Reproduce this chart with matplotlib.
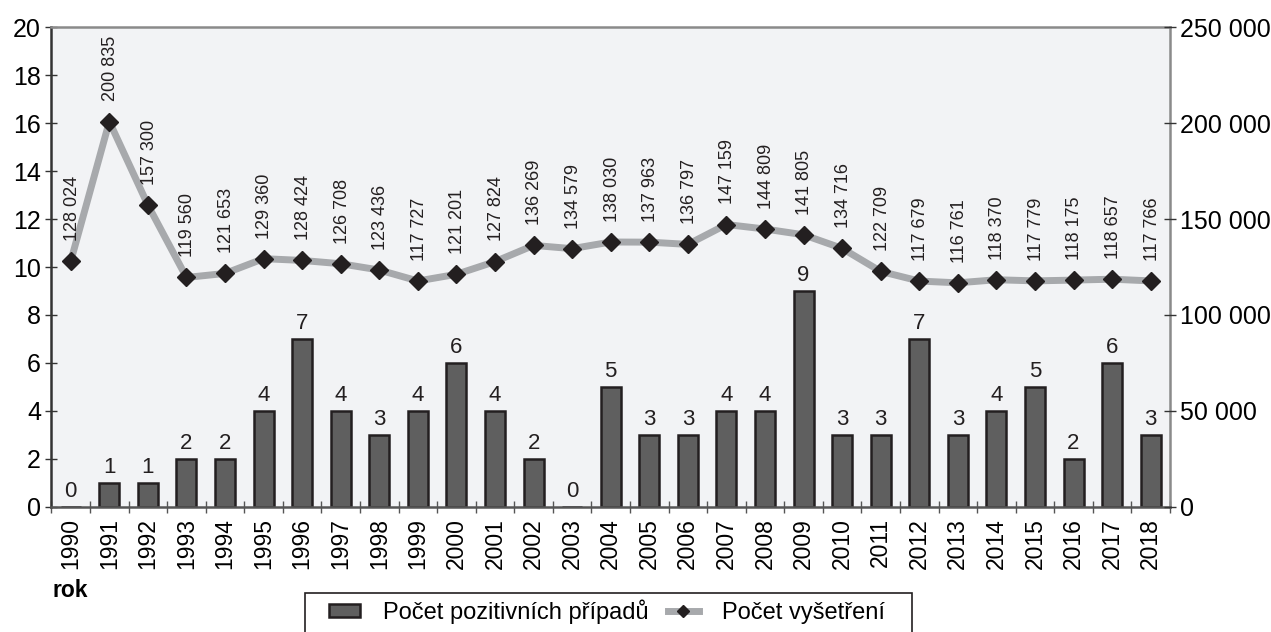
import matplotlib
matplotlib.use('Agg')
import matplotlib.pyplot as plt
from matplotlib.ticker import FuncFormatter, MultipleLocator
from matplotlib.patches import Patch, Rectangle
from matplotlib.lines import Line2D
import numpy as np

plt.rcParams['font.family'] = ['Liberation Sans', 'DejaVu Sans']

years = list(range(1990, 2019))
pozitivni = [0, 1, 1, 2, 2, 4, 7, 4, 3, 4, 6, 4, 2, 0, 5, 3, 3, 4, 4, 9, 3, 3, 7, 3, 4, 5, 2, 6, 3]
vysetreni = [128024, 200835, 157300, 119560, 121653, 129360, 128424, 126708, 123436, 117727,
             121201, 127824, 136269, 134579, 138030, 137963, 136797, 147159, 144809, 141805,
             134716, 122709, 117679, 116761, 118370, 117779, 118175, 118657, 117766]

BAR = '#5f5f5f'
EDGE = '#231f20'
LINE = '#a7a9ac'


def space_thousands(v, pos=None):
    return f"{int(v):,}".replace(",", " ")


x = np.arange(len(years))
fig = plt.figure(figsize=(12.71, 6.32), dpi=100)
ax = fig.add_axes([0.0405, 0.198, 0.880, 0.759])
ax.set_facecolor('#f2f3f5')

ax.bar(x, pozitivni, width=0.52, color=BAR, edgecolor=EDGE, linewidth=1.8, zorder=2)
for xi, v in zip(x, pozitivni):
    ax.text(xi, v + 0.22, str(v), ha='center', va='bottom', fontsize=16, color=EDGE)

ax.set_xlim(-0.5, len(years) - 0.5)
ax.set_ylim(0, 20)
ax.yaxis.set_major_locator(MultipleLocator(2))
ax.set_xticks(x)
ax.set_xticklabels([str(y) for y in years], rotation=90, fontsize=16.5)
ax.tick_params(axis='x', length=0, pad=8)
ax.set_xticks(np.arange(-0.5, len(years), 1), minor=True)
ax.tick_params(axis='x', which='minor', direction='inout', length=9, width=1, color='#555555')
ax.tick_params(axis='y', labelsize=18, direction='inout', length=9, width=1, color='#333333', pad=3)

for side, col in [('left', '#333333'), ('bottom', '#555555'), ('top', '#8a8a8a'), ('right', '#8a8a8a')]:
    ax.spines[side].set_color(col)
    ax.spines[side].set_linewidth(1.8)

ax2 = ax.twinx()
ax2.set_ylim(0, 250000)
ax2.yaxis.set_major_locator(MultipleLocator(50000))
ax2.yaxis.set_major_formatter(FuncFormatter(space_thousands))
ax2.tick_params(axis='y', labelsize=18, direction='inout', length=9, width=1, color='#333333', pad=3)
for s in ax2.spines.values():
    s.set_visible(False)
ax2.plot(x, vysetreni, color=LINE, lw=5, marker='D', markersize=9.5,
         markerfacecolor=EDGE, markeredgecolor=EDGE, zorder=3)
for xi, v in zip(x, vysetreni):
    ax2.annotate(space_thousands(v), (xi, v), xytext=(1, 14.5), textcoords='offset points',
                 rotation=90, ha='center', va='bottom', fontsize=13, color=EDGE)

fig.text(0.041, 0.055, 'rok', fontsize=16.5, fontweight='bold', va='baseline', ha='left')

# legenda: rámeček kreslený zvlášť, dole oříznutý okrajem obrázku
handles = [
    Patch(facecolor=BAR, edgecolor=EDGE, linewidth=1.8),
    Line2D([], [], color=LINE, lw=5, marker='D', markersize=6,
           markerfacecolor=EDGE, markeredgecolor=EDGE),
]
labels = ['Počet pozitivních případů', 'Počet vyšetření']
fig.legend(handles, labels, loc='upper left', bbox_to_anchor=(0.259, 0.052), ncol=2,
           fontsize=17, frameon=False, handlelength=1.3, handleheight=0.5,
           handletextpad=1.0, columnspacing=0.8, borderpad=0, borderaxespad=0)
fig.add_artist(Rectangle((305 / 1271, -0.05), (912 - 305) / 1271, 0.05 + (632 - 593) / 632,
                         transform=fig.transFigure, fill=False, edgecolor=EDGE, lw=1.2))

fig.savefig('out.png', dpi=100)
